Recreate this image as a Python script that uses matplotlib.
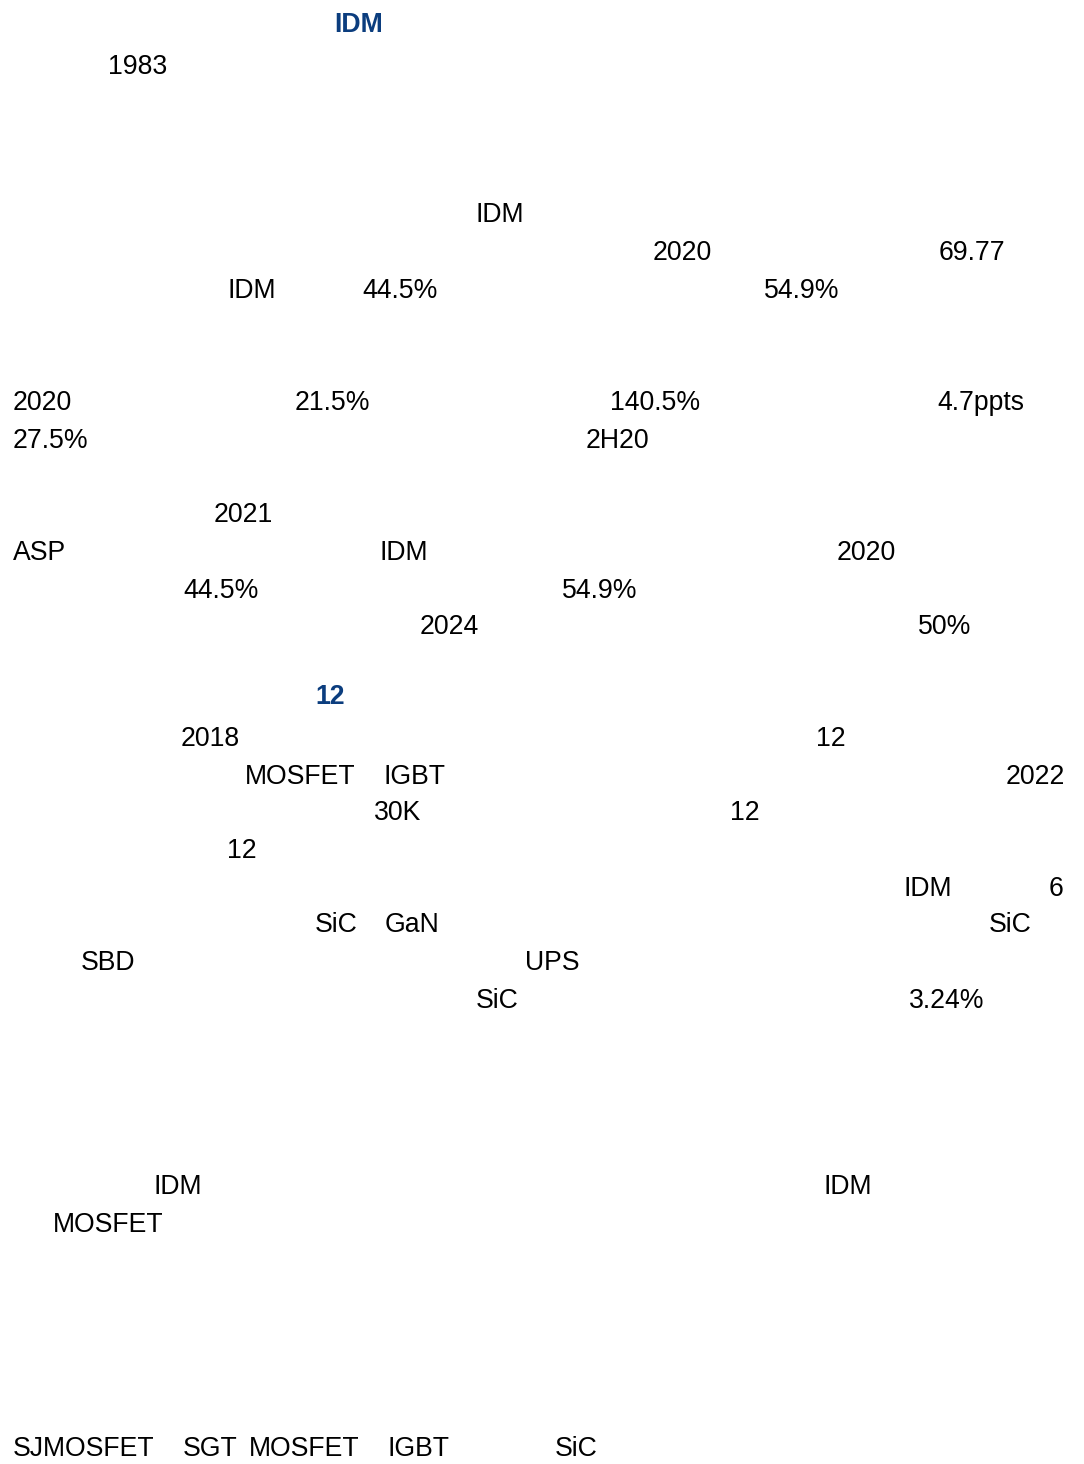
import matplotlib
matplotlib.use("Agg")
import matplotlib.pyplot as plt

plt.rcParams['font.family'] = ['Liberation Sans', 'DejaVu Sans']

# Visible text fragments of the page (CJK text absent in the reference)
heading_texts = ["IDM", "12"]
heading_x = [334, 315]
heading_y = [22, 694]

body_texts = [
    "1983",
    "IDM", "2020", "69.77",
    "IDM", "44.5%", "54.9%",
    "2020", "21.5%", "140.5%", "4.7ppts",
    "27.5%", "2H20",
    "2021",
    "ASP", "IDM", "2020",
    "44.5%", "54.9%",
    "2024", "50%",
    "2018", "12",
    "MOSFET", "IGBT", "2022",
    "30K", "12",
    "12",
    "IDM", "6",
    "SiC", "GaN", "SiC",
    "SBD", "UPS",
    "SiC", "3.24%",
    "IDM", "IDM",
    "MOSFET",
    "SJMOSFET", "SGT", "MOSFET", "IGBT", "SiC",
]
body_x = [
    108,
    476, 653, 939,
    227, 362, 764,
    13, 295, 610, 937,
    13, 586,
    214,
    13, 379, 837,
    183, 562,
    420, 918,
    181, 816,
    245, 384, 1006,
    374, 730,
    227,
    903, 1049,
    315, 385, 989,
    81, 525,
    476, 909,
    154, 824,
    53,
    13, 183, 249, 387, 555,
]
body_y = [
    65,
    213, 251, 251,
    289, 289, 289,
    401, 401, 401, 401,
    438, 438,
    513,
    550, 550, 550,
    588, 588,
    625, 625,
    737, 737,
    774, 774, 774,
    811, 811,
    848,
    886, 886,
    923, 923, 923,
    960, 960,
    998, 998,
    1184, 1184,
    1222,
    1446, 1446, 1446, 1446, 1446,
]

W, H = 1084, 1464
fig = plt.figure(figsize=(W / 100, H / 100), dpi=100)
ax = fig.add_axes([0, 0, 1, 1])
ax.set_xlim(0, W)
ax.set_ylim(H, 0)
ax.axis('off')

CAP = 9.5  # half cap height in px, to move from center line to baseline

for t, x, y in zip(body_texts, body_x, body_y):
    ax.text(x, y + CAP, t, fontsize=19.2, color='#000000', ha='left', va='baseline')

for t, x, y in zip(heading_texts, heading_x, heading_y):
    ax.text(x, y + CAP, t, fontsize=19.2, color='#0b3d7e', fontweight='bold',
            ha='left', va='baseline')

fig.savefig('out.png', dpi=100, facecolor='white')
